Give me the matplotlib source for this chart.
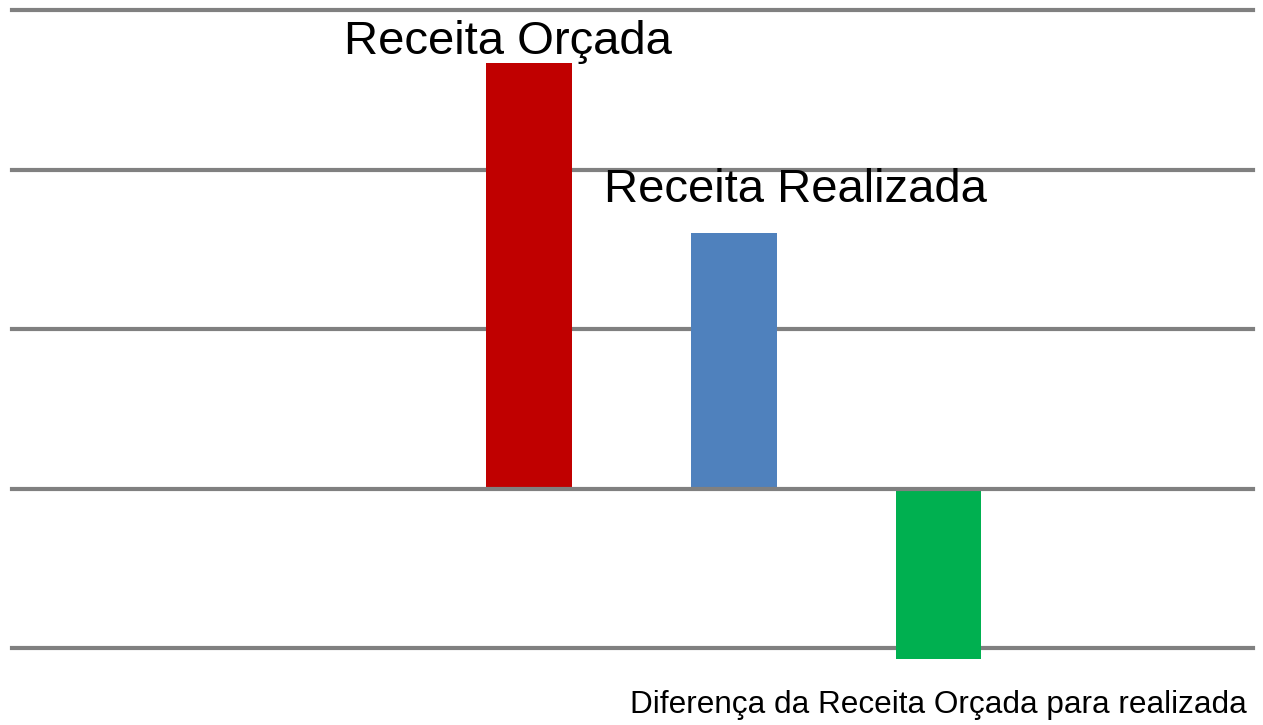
import matplotlib
matplotlib.use("Agg")
import matplotlib.pyplot as plt

plt.rcParams["font.family"] = ["Liberation Sans", "DejaVu Sans"]

# dados (unidades das linhas de grade)
categorias = ["Receita Orçada", "Receita Realizada", "Diferença"]
valores = [2.67, 1.60, -1.07]
cores = ["#C00000", "#4F81BD", "#00B050"]
rotulos = ["Receita Orçada", "Receita Realizada", None]
# deslocamento dos rotulos em pixels (dx, dy) a partir do topo da barra
desloc = [(-21, 9), (61, 31), None]
grade = [-1, 0, 1, 2, 3]
titulo = "Diferença da Receita Orçada para realizada"

fig = plt.figure(figsize=(12.63, 7.25), dpi=100, facecolor="white")
ax = fig.add_axes([12 / 1263, 53 / 725, (1253 - 12) / 1263, (715 - 53) / 725])

pos = list(range(len(valores)))
ax.bar(pos, valores, width=0.415, color=cores, zorder=2)

for g in grade:
    ax.axhline(g, color="#808080", lw=3, zorder=3 if g == 0 else 1, clip_on=False)

for p, v, r, d in zip(pos, valores, rotulos, desloc):
    if r is None:
        continue
    ax.annotate(r, xy=(p, v), xytext=d, textcoords="offset pixels",
                ha="center", va="baseline", fontsize=34, color="black")

ax.set_xlim(-2.522, 3.532)
ax.set_ylim(-1.15, 3.0)
ax.axis("off")

fig.text(1247 / 1263, (725 - 713) / 725, titulo, ha="right", va="baseline",
         fontsize=22.7, color="black")

fig.savefig("out.png", dpi=100, facecolor="white")
